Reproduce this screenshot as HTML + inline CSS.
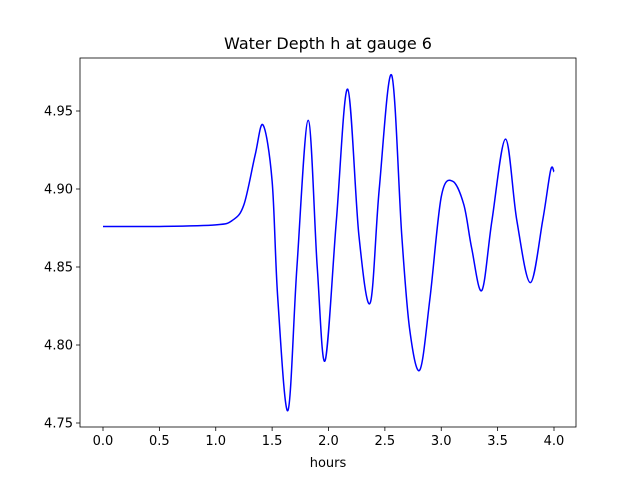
<!DOCTYPE html>
<html><head><meta charset="utf-8"><style>
body{margin:0;background:#fff;}
svg{display:block;font-family:"DejaVu Sans","Liberation Sans",sans-serif;}
</style></head><body>
<svg id="chart" width="640" height="480">
<rect width="640" height="480" fill="#fff"/>
<text x="328" y="49" text-anchor="middle" font-size="16">Water Depth h at gauge 6</text>
<g id="axes"></g>
</svg>
<script>
const hours=[0,0.5,1.0,1.15,1.25,1.35,1.42,1.5,1.55,1.64,1.72,1.82,1.9,1.97,2.07,2.17,2.27,2.37,2.45,2.56,2.65,2.72,2.81,2.9,3.0,3.1,3.2,3.27,3.36,3.45,3.57,3.67,3.79,3.9,3.97,4.0];
const depth=[4.876,4.876,4.877,4.880,4.890,4.922,4.941,4.905,4.830,4.758,4.850,4.944,4.850,4.790,4.880,4.964,4.870,4.827,4.900,4.973,4.870,4.810,4.784,4.830,4.895,4.905,4.890,4.862,4.835,4.880,4.932,4.880,4.840,4.880,4.912,4.911];
const xTicks=[0,0.5,1.0,1.5,2.0,2.5,3.0,3.5,4.0];
const yTicks=[4.75,4.80,4.85,4.90,4.95];
const L=80,R=576,T=58,B=427;
const xs=h=>103+h*112.75;
const ys=v=>423-(v-4.75)*1560;
const NS="http://www.w3.org/2000/svg";
const g=document.getElementById('axes');
function mk(t,a){const e=document.createElementNS(NS,t);for(const k in a)e.setAttribute(k,a[k]);g.appendChild(e);return e;}
// line
const P=hours.map((h,i)=>[xs(h),ys(depth[i])]);
let d=`M${P[0][0]},${P[0][1]}`;
for(let i=0;i<P.length-1;i++){
 const p0=P[Math.max(0,i-1)],p1=P[i],p2=P[i+1],p3=P[Math.min(P.length-1,i+2)];
 const c1=[p1[0]+(p2[0]-p0[0])/6,p1[1]+(p2[1]-p0[1])/6];
 const c2=[p2[0]-(p3[0]-p1[0])/6,p2[1]-(p3[1]-p1[1])/6];
 d+=` C${c1[0]},${c1[1]} ${c2[0]},${c2[1]} ${p2[0]},${p2[1]}`;
}
const line=mk('path',{d:d,fill:'none',stroke:'#0000ff','stroke-width':1.5});


const frame=mk('rect',{x:L,y:T,width:R-L,height:B-T,fill:'none',stroke:'#000','stroke-width':0.8});


xTicks.forEach(t=>{
 const x=xs(t);
 mk('line',{x1:x,x2:x,y1:B,y2:B+4,stroke:'#000','stroke-width':0.8});
 const tx=mk('text',{x:x,y:B+18,'text-anchor':'middle','font-size':13});
 tx.textContent=t.toFixed(1);
 
 
});
yTicks.forEach(t=>{
 const y=ys(t);
 mk('line',{x1:L-4,x2:L,y1:y,y2:y,stroke:'#000','stroke-width':0.8});
 const tx=mk('text',{x:L-7,y:y+4.5,'text-anchor':'end','font-size':13});
 tx.textContent=t.toFixed(2);
 
 
});
const xl=mk('text',{x:328,y:467,'text-anchor':'middle','font-size':13});
xl.textContent='hours';


</script>
</body></html>
